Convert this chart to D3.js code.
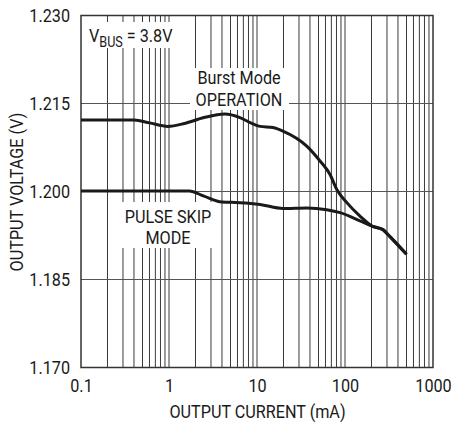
<!DOCTYPE html>
<html>
<head>
<meta charset="utf-8">
<script src="https://cdn.jsdelivr.net/npm/d3@7"></script>
<style>
  html, body { margin: 0; padding: 0; background: #fff; }
  svg text { font-family: Roboto, "DejaVu Sans Condensed", sans-serif; fill: #1a1a1a; }
</style>
</head>
<body>
<svg id="chart" width="452" height="425"></svg>
<script>
// ---- data ----
const burstCurrent = [0.1, 0.2, 0.4, 0.6, 0.97, 1.5, 2.5, 4.3, 6.4, 8.5, 10.8, 15.2, 19.7, 37, 52, 67.6, 81, 105, 148, 203, 270, 320, 500];
const burstVoltage = [1.2122, 1.2122, 1.2122, 1.2117, 1.2111, 1.2116, 1.2126, 1.2132, 1.2126, 1.2117, 1.2111, 1.2109, 1.2103, 1.2077, 1.2052, 1.2029, 1.2003, 1.1981, 1.1958, 1.1941, 1.1935, 1.1924, 1.1893];
const pulseCurrent = [0.1, 0.5, 1, 1.7, 2.5, 4.0, 6.4, 10.8, 19.7, 37, 62, 88, 148, 203, 270, 320, 500];
const pulseVoltage = [1.2001, 1.2001, 1.2001, 1.2001, 1.1992, 1.1982, 1.1981, 1.1978, 1.1971, 1.1972, 1.1969, 1.1964, 1.1950, 1.1941, 1.1935, 1.1924, 1.1893];
const xTickValues = [0.1, 1, 10, 100, 1000];
const xTickLabels = ["0.1", "1", "10", "100", "1000"];
const yTickValues = [1.170, 1.185, 1.200, 1.215, 1.230];
const yTickLabels = ["1.170", "1.185", "1.200", "1.215", "1.230"];
const xTitle = "OUTPUT CURRENT (mA)";
const yTitle = "OUTPUT VOLTAGE (V)";

// ---- layout ----
const svg = d3.select("#chart");
const pL = 81, pR = 433, pT = 15.5, pB = 367.5;
const x = d3.scaleLog().domain([0.1, 1000]).range([pL, pR]);
const y = d3.scaleLinear().domain([1.170, 1.230]).range([pB, pT]);
const fs = 18, sx = 0.9;

// minor vertical gridlines
const vLines = [];
[0.1, 1, 10, 100].forEach(d => { for (let k = 2; k <= 10; k++) { const v = d * k; if (v < 1000) vLines.push(v); } });
svg.append("g").selectAll("line").data(vLines).join("line")
  .attr("x1", d => x(d)).attr("x2", d => x(d))
  .attr("y1", pT).attr("y2", pB)
  .attr("stroke", "#3a3a3a").attr("stroke-width", 1);

// horizontal gridlines
svg.append("g").selectAll("line").data([1.185, 1.200, 1.215]).join("line")
  .attr("x1", pL).attr("x2", pR)
  .attr("y1", d => y(d)).attr("y2", d => y(d))
  .attr("stroke", "#555").attr("stroke-width", 1);

// white label masks
const masks = [
  [82, 22, 108, 26],
  [190, 68, 99, 42],
  [115, 202, 104, 46]
];
svg.append("g").selectAll("rect").data(masks).join("rect")
  .attr("x", d => d[0]).attr("y", d => d[1]).attr("width", d => d[2]).attr("height", d => d[3])
  .attr("fill", "#fff");

// frame
svg.append("rect").attr("x", pL).attr("y", pT).attr("width", pR - pL).attr("height", pB - pT)
  .attr("fill", "none").attr("stroke", "#333").attr("stroke-width", 1.5);

// curves
const line = d3.line().x(d => x(d[0])).y(d => y(d[1])).curve(d3.curveMonotoneX);
svg.append("path").datum(burstCurrent.map((c, i) => [c, burstVoltage[i]]))
  .attr("d", line).attr("fill", "none").attr("stroke", "#1a1a1a").attr("stroke-width", 3);
svg.append("path").datum(pulseCurrent.map((c, i) => [c, pulseVoltage[i]]))
  .attr("d", line).attr("fill", "none").attr("stroke", "#1a1a1a").attr("stroke-width", 3);

// axes
const yAxis = d3.axisLeft(y).tickValues(yTickValues).tickFormat((d, i) => yTickLabels[i]).tickSize(0).tickPadding(11);
const gy = svg.append("g").attr("transform", `translate(${pL},0)`).call(yAxis);
gy.select(".domain").remove();
gy.selectAll("text").attr("font-size", fs).attr("font-family", null).attr("fill", "#1a1a1a")
  .attr("x", -11 / sx).attr("transform", `scale(${sx},1)`);

const xAxis = d3.axisBottom(x).tickValues(xTickValues).tickFormat((d, i) => xTickLabels[i]).tickSize(0).tickPadding(12);
const gx = svg.append("g").attr("transform", `translate(0,${pB})`).call(xAxis);
gx.select(".domain").remove();
gx.selectAll("text").attr("font-size", fs).attr("font-family", null).attr("fill", "#1a1a1a")
  .attr("transform", `scale(${sx},1)`);

// helper for condensed text
function label(px, py, str, anchor, extra) {
  const g = svg.append("g").attr("transform", `translate(${px},${py})${extra || ""} scale(${sx},1)`);
  return g.append("text").attr("text-anchor", anchor).attr("font-size", fs).text(str);
}

// titles
label((pL + pR) / 2 + 0.5, 418, xTitle, "middle");
label(23, 192, yTitle, "middle", " rotate(-90)");

// annotations
const vb = label(89, 42, null, "start");
vb.append("tspan").text("V");
vb.append("tspan").attr("font-size", 14).attr("dy", 5).text("BUS");
vb.append("tspan").attr("dy", -5).text(" = 3.8V");

label(239, 84, "Burst Mode", "middle");
label(239, 106, "OPERATION", "middle");
label(168, 223, "PULSE SKIP", "middle");
label(168, 244, "MODE", "middle");
</script>
</body>
</html>
